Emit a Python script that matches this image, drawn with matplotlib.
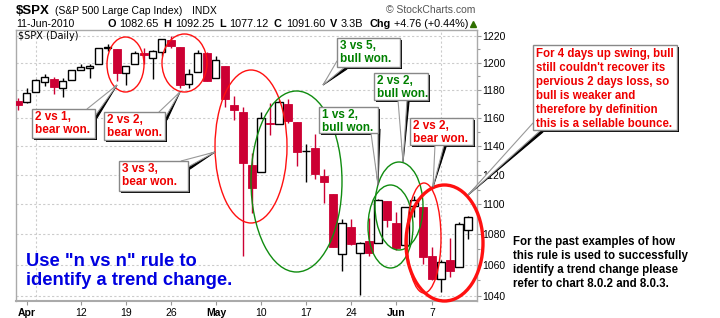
import matplotlib
matplotlib.use("Agg")
import matplotlib.pyplot as plt
from matplotlib.patches import Ellipse, Rectangle, Polygon
from matplotlib.ticker import FixedLocator, NullFormatter
import numpy as np

plt.rcParams['font.family'] = ['Liberation Sans', 'DejaVu Sans']

# $SPX daily, 31-Mar-2010 .. 11-Jun-2010 (first bar is cut by the frame)
opens = [1171.75,
         1171.23, 1178.71, 1186.01, 1188.23, 1181.75, 1187.47, 1194.94, 1195.94, 1198.69, 1210.77,
         1210.17, 1192.06, 1199.04, 1207.16, 1203.79, 1207.87, 1217.07, 1211.52, 1184.59, 1193.30, 1206.77,
         1188.58, 1197.50, 1169.24, 1164.38, 1127.04, 1122.27, 1156.39, 1155.43, 1170.04, 1157.19,
         1136.52, 1138.78, 1119.57, 1107.34, 1067.26, 1084.78, 1067.42, 1075.51, 1074.27, 1102.59,
         1087.30, 1073.01, 1098.82, 1098.43, 1065.84, 1050.81, 1062.75, 1058.77, 1082.65]
highs = [1174.56,
         1181.43, 1187.73, 1191.80, 1189.60, 1188.55, 1194.66, 1199.20, 1199.04, 1210.65, 1213.92,
         1210.17, 1197.87, 1208.58, 1210.99, 1209.23, 1217.28, 1219.80, 1211.52, 1195.05, 1209.36, 1207.99,
         1205.13, 1197.50, 1175.95, 1167.58, 1135.13, 1163.85, 1170.48, 1172.87, 1173.57, 1157.19,
         1141.88, 1148.66, 1124.27, 1107.34, 1090.16, 1089.95, 1074.75, 1090.75, 1103.52, 1102.59,
         1094.77, 1098.56, 1105.67, 1098.43, 1071.36, 1063.15, 1077.74, 1087.85, 1092.25]
lows = [1165.77,
        1170.69, 1178.71, 1182.94, 1177.25, 1175.12, 1187.15, 1194.71, 1188.82, 1198.69, 1208.50,
        1186.77, 1183.68, 1199.04, 1198.85, 1188.25, 1205.10, 1211.07, 1181.62, 1181.81, 1193.30, 1186.32,
        1188.58, 1168.12, 1158.15, 1065.79, 1094.15, 1122.27, 1147.71, 1155.43, 1156.14, 1126.14,
        1114.96, 1117.20, 1100.66, 1071.58, 1055.90, 1072.70, 1040.78, 1065.59, 1074.27, 1084.78,
        1069.89, 1072.03, 1091.81, 1060.50, 1049.86, 1042.17, 1052.25, 1058.77, 1077.12]
closes = [1169.43,
          1178.10, 1187.44, 1189.44, 1182.45, 1186.44, 1194.37, 1196.48, 1197.30, 1210.65, 1211.67,
          1192.13, 1197.52, 1207.17, 1205.94, 1208.67, 1217.28, 1212.05, 1183.71, 1191.36, 1206.78, 1186.69,
          1202.26, 1173.60, 1165.90, 1128.15, 1110.88, 1159.73, 1155.79, 1171.67, 1157.44, 1135.68,
          1136.94, 1120.80, 1115.05, 1071.59, 1087.69, 1073.65, 1074.03, 1067.95, 1103.06, 1089.41,
          1070.71, 1098.38, 1102.83, 1064.88, 1050.47, 1062.00, 1055.69, 1086.84, 1091.60]

xtick_pos = [0, 6, 11, 16, 21, 26, 31, 36, 41, 45]
xtick_labels = ['Apr', '12', '19', '26', 'May', '10', '17', '24', 'Jun', '7']
price_ticks = [1040, 1060, 1080, 1100, 1120, 1140, 1160, 1180, 1200, 1220]

opens, highs, lows, closes = map(np.array, (opens, highs, lows, closes))
days = np.arange(len(closes)) - 1
up = closes >= opens

RED = '#cc0033'
W, H = 720, 318
fig = plt.figure(figsize=(W / 100, H / 100), dpi=100)
ax = fig.add_axes([16 / W, 1 - 301 / H, 461 / W, 271 / H])

ax.set_yscale('log')
ax.set_ylim(1036.65, 1224.3)
ax.set_xlim(-1.22, 50.0)

# candles
ax.vlines(days, lows, highs, colors=np.where(up, 'black', RED), lw=1, zorder=2)
ax.bar(days[up], (closes - opens)[up], bottom=opens[up], width=0.78,
       color='white', edgecolor='black', lw=1, zorder=3)
ax.bar(days[~up], (opens - closes)[~up], bottom=closes[~up], width=0.86,
       color=RED, edgecolor=RED, lw=0.6, zorder=3)

# axes / grid
ax.yaxis.tick_right()
ax.yaxis.set_major_locator(FixedLocator(price_ticks))
ax.yaxis.set_minor_locator(FixedLocator([p + 10 for p in price_ticks[:-1]]))
ax.yaxis.set_major_formatter(plt.FixedFormatter([str(p) for p in price_ticks]))
ax.yaxis.set_minor_formatter(NullFormatter())
ax.tick_params(axis='y', which='major', length=3, width=0.8, color='#999999', labelsize=7.5, pad=1)
ax.tick_params(axis='y', which='minor', length=2, width=0.8, color='#999999')
ax.set_xticks(xtick_pos)
ax.set_xticklabels(xtick_labels)
for lab in ax.get_xticklabels():
    if lab.get_text() in ('Apr', 'May', 'Jun'):
        lab.set_fontweight('bold')
ax.tick_params(axis='x', length=3, width=0.8, color='#999999', labelsize=7.5, pad=2)
ax.set_xticks(np.arange(1, 50, 5), minor=True)
ax.tick_params(axis='x', which='minor', length=0)
ax.grid(True, which='major', axis='y', color='#cccccc', ls=(0, (2, 2)), lw=0.8)
ax.grid(True, which='minor', axis='x', color='#cccccc', ls=(0, (2, 2)), lw=0.8)
ax.grid(False, which='major', axis='x')
ax.set_axisbelow(True)
for s in ax.spines.values():
    s.set_color('#aaaaaa')
    s.set_linewidth(1)
ax.spines['bottom'].set_linewidth(1.5)

# overlay in pixel space for the annotations
ov = fig.add_axes([0, 0, 1, 1], zorder=5)
ov.set_xlim(0, W)
ov.set_ylim(H, 0)
ov.axis('off')
ov.patch.set_alpha(0)

# header
ov.text(16, 11, '$SPX', fontsize=9.5, fontweight='bold', va='center')
ov.text(55, 11, '(S&P 500 Large Cap Index)', fontsize=7.5, va='center')
ov.text(192, 11, 'INDX', fontsize=7.5, va='center')
ov.text(386, 10, '\u00a9 StockCharts.com', fontsize=7.5, va='center', color='#555555')
ov.text(16, 24, '11-Jun-2010', fontsize=7.6, va='center')
hdr = [(108, 'O', True), (119, '1082.65', False), (163, 'H', True), (175, '1092.25', False),
       (219, 'L', True), (229, '1077.12', False), (274, 'C', True), (286, '1091.60', False),
       (330, 'V', True), (341, '3.3B', False), (369, 'Chg', True), (394, '+4.76 (+0.44%)', False)]
for x, t, b in hdr:
    ov.text(x, 24, t, fontsize=7.8, va='center', fontweight='bold' if b else 'normal')
ov.plot([473], [24], marker='^', ms=4.5, color='#2f6f00', mec='#2f6f00')
ov.text(18, 36, '$SPX (Daily)', fontsize=7, va='center', family='DejaVu Sans')

# ellipses
ellipses = [((125.5, 64.5), 37, 55, 'red', 1.0),
            ((184.5, 63), 45, 58, 'red', 1.0),
            ((251, 146.5), 72, 153, 'red', 1.0),
            ((296.5, 181.5), 91, 181, 'green', 1.0),
            ((390.5, 226.5), 45, 83, 'green', 1.0),
            ((399, 206), 48, 88, 'green', 1.0),
            ((424, 238), 34, 110, 'red', 1.0),
            ((444.5, 243), 77, 116, 'red', 2.4)]
for c, w, h, col, lw in ellipses:
    ov.add_patch(Ellipse(c, w, h, fill=False, ec='#ff1010' if col == 'red' else '#108c10', lw=lw))


def callout(box, base, tip, text, color, fs=8.5, ls=1.15, pad=(3, 2)):
    x0, y0, x1, y1 = box
    ov.add_patch(Rectangle((x0 + 2, y0 + 2), x1 - x0, y1 - y0, fc='black', ec='none'))
    ov.add_patch(Polygon([(base[0][0] + 2, base[0][1] + 2), (base[1][0] + 2, base[1][1] + 2), tip],
                         fc='black', ec='black', lw=0.8))
    ov.add_patch(Polygon([base[0], base[1], tip], fc='white', ec='#999999', lw=0.8))
    ov.add_patch(Rectangle((x0, y0), x1 - x0, y1 - y0, fc='white', ec='#888888', lw=1))
    ov.text(x0 + pad[0], y0 + pad[1], text, color=color, fontsize=fs, fontweight='bold',
            va='top', ha='left', linespacing=ls)


RTXT = '#ee0000'
GTXT = '#008000'
callout((32, 109, 95, 138), ((87, 109), (95, 116)), (117, 85), '2 vs 1,\nbear won.', RTXT)
callout((104, 112, 165, 140), ((159, 112), (165, 118)), (180, 92), '2 vs 2,\nbear won.', RTXT)
callout((119, 161, 188, 191), ((181, 161), (188, 167)), (215, 152), '3 vs 3,\nbear won.', RTXT)
callout((337, 38, 400, 67), ((337, 61), (345, 67)), (323, 85), '3 vs 5,\nbull won.', GTXT)
callout((319, 107, 378, 133), ((371, 133), (378, 127)), (378, 185), '1 vs 2,\nbull won.', GTXT)
callout((374, 73, 428, 100), ((398, 100), (407, 100)), (403, 162), '2 vs 2,\nbull won.', GTXT)
callout((410, 118, 473, 145), ((435, 145), (444, 145)), (433, 187), '2 vs 2,\nbear won.', RTXT)
callout((533, 45, 677, 130), ((533, 123), (541, 130)), (468, 195),
        "For 4 days up swing, bull\nstill couldn't recover its\npervious 2 days loss, so\n"
        "bull is weaker and\ntherefore by definition\nthis is a sellable bounce.",
        RTXT, fs=8.3, ls=1.22, pad=(3, 3))

ov.text(513, 236, 'For the past examples of how\nthis rule is used to successfully\n'
        'identify a trend change please\nrefer to chart 8.0.2 and 8.0.3.',
        fontsize=8.3, fontweight='bold', va='top', ha='left', linespacing=1.22)
ov.text(26, 271, 'Use "n vs n" rule to\nidentify a trend change.', fontsize=13.2,
        fontweight='bold', color='#0000e0', va='center', ha='left', linespacing=1.2)

fig.savefig('out.png', dpi=100)
